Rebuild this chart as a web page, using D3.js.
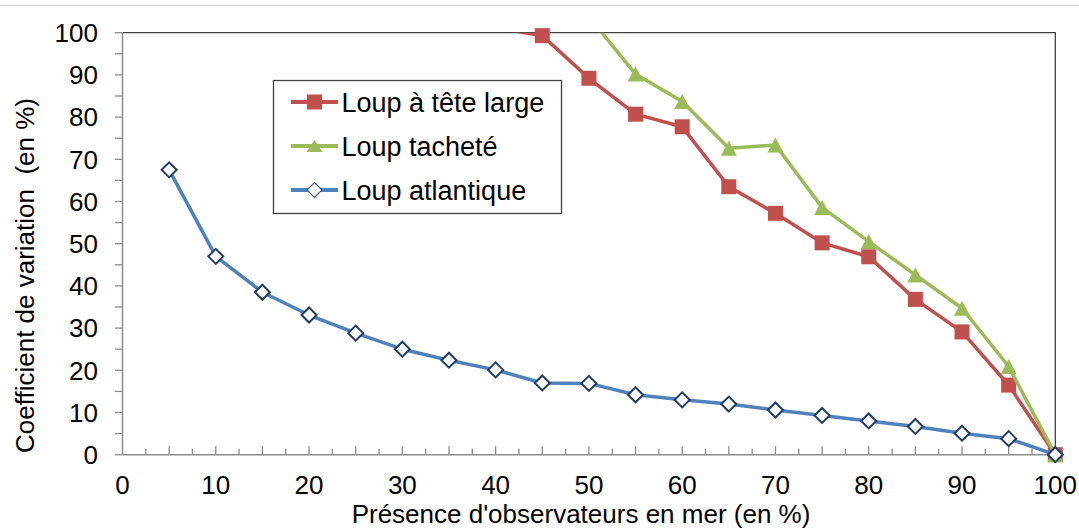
<!DOCTYPE html>
<html>
<head>
<meta charset="utf-8">
<script src="https://cdn.jsdelivr.net/npm/d3@7"></script>
<style>
  html, body { margin: 0; padding: 0; background: #fff; }
  svg { display: block; font-family: "Liberation Sans", Arial, sans-serif; }
</style>
</head>
<body>
<svg id="chart" width="1079" height="529"></svg>
<script>
// Presence of observers at sea (%), one point every 5 %
const presence = [5, 10, 15, 20, 25, 30, 35, 40, 45, 50, 55, 60, 65, 70, 75, 80, 85, 90, 95, 100];

// Coefficient of variation (%) per species; null = not plotted
const loupTeteLarge = [null, null, null, null, null, null, null, 101.2, 99.3, 89.2, 80.7, 77.7, 63.5, 57.2, 50.2, 46.9, 36.8, 29.1, 16.5, 0];
const loupTachete   = [null, null, null, null, null, null, null, null, null, 103.8, 90.2, 83.7, 72.6, 73.4, 58.6, 50.5, 42.6, 34.7, 20.9, 0];
const loupAtlantique = [67.5, 47.0, 38.5, 33.1, 28.8, 25.0, 22.4, 20.1, 17.0, 16.9, 14.2, 13.0, 12.0, 10.6, 9.3, 8.0, 6.7, 5.1, 3.8, 0];

const seriesNames = ["Loup à tête large", "Loup tacheté", "Loup atlantique"];

const xTickLabels = [0, 10, 20, 30, 40, 50, 60, 70, 80, 90, 100];
const yTickLabels = [0, 10, 20, 30, 40, 50, 60, 70, 80, 90, 100];
const xMinorTicks = [2.5, 5, 7.5, 10, 12.5, 15, 17.5, 20, 22.5, 25, 27.5, 30, 32.5, 35, 37.5, 40, 42.5, 45, 47.5, 50,
                     52.5, 55, 57.5, 60, 62.5, 65, 67.5, 70, 72.5, 75, 77.5, 80, 82.5, 85, 87.5, 90, 92.5, 95, 97.5];
const yMinorTicks = [0, 5, 10, 15, 20, 25, 30, 35, 40, 45, 50, 55, 60, 65, 70, 75, 80, 85, 90, 95, 100];

const plot = { left: 122.5, right: 1055.3, top: 32.7, bottom: 454.7 };

const svg = d3.select("#chart");
const x = d3.scaleLinear().domain([0, 100]).range([plot.left, plot.right]);
const y = d3.scaleLinear().domain([0, 100]).range([plot.bottom, plot.top]);

// outer frame line at the top of the chart area
svg.append("line").attr("x1", 0).attr("x2", 1079).attr("y1", 5.5).attr("y2", 5.5)
  .attr("stroke", "#d9d9d9").attr("stroke-width", 1.5);

// plot area border (top and right)
svg.append("path")
  .attr("d", `M${plot.left},${plot.top}H${plot.right}V${plot.bottom}`)
  .attr("fill", "none").attr("stroke", "#404040").attr("stroke-width", 1.3);

// axes
const axisColor = "#8c8c8c";
svg.append("line").attr("x1", plot.left).attr("x2", plot.left).attr("y1", plot.top).attr("y2", plot.bottom)
  .attr("stroke", axisColor).attr("stroke-width", 1.5);
svg.append("line").attr("x1", plot.left).attr("x2", plot.right).attr("y1", plot.bottom).attr("y2", plot.bottom)
  .attr("stroke", axisColor).attr("stroke-width", 1.5);

svg.append("g").selectAll("line").data(yMinorTicks).join("line")
  .attr("x1", plot.left - 7.5).attr("x2", plot.left)
  .attr("y1", d => y(d)).attr("y2", d => y(d))
  .attr("stroke", axisColor).attr("stroke-width", 1.3);

svg.append("g").selectAll("line").data(xMinorTicks).join("line")
  .attr("x1", d => x(d)).attr("x2", d => x(d))
  .attr("y1", plot.bottom).attr("y2", d => plot.bottom - (d % 5 === 0 ? 8.5 : 6))
  .attr("stroke", axisColor).attr("stroke-width", 1.3);

// tick labels
svg.append("g").selectAll("text").data(yTickLabels).join("text")
  .attr("x", 98).attr("y", d => y(d)).attr("dy", "0.36em")
  .attr("text-anchor", "end").attr("font-size", 26).attr("fill", "#000")
  .text(d => d);

svg.append("g").selectAll("text").data(xTickLabels).join("text")
  .attr("x", d => x(d)).attr("y", 493.5)
  .attr("text-anchor", "middle").attr("font-size", 26).attr("fill", "#000")
  .text(d => d);

// axis titles
svg.append("text")
  .attr("x", 581).attr("y", 523).attr("text-anchor", "middle")
  .attr("font-size", 26).attr("fill", "#000")
  .text("Présence d'observateurs en mer (en %)");

svg.append("text")
  .attr("transform", "translate(33.5,275.5) rotate(-90)")
  .attr("text-anchor", "middle").attr("font-size", 26).attr("fill", "#000")
  .style("white-space", "pre")
  .text("Coefficient de variation  (en %)");

// series
svg.append("defs").append("clipPath").attr("id", "plot-clip")
  .append("rect").attr("x", plot.left).attr("y", plot.top)
  .attr("width", plot.right - plot.left).attr("height", plot.bottom - plot.top);

const colors = { red: "#C0504D", green: "#9BBB59", blue: "#4F81BD", navy: "#1F3B63" };

const series = [
  { name: seriesNames[0], values: loupTeteLarge, color: colors.red, marker: "square" },
  { name: seriesNames[1], values: loupTachete, color: colors.green, marker: "triangle" },
  { name: seriesNames[2], values: loupAtlantique, color: colors.blue, marker: "diamond" }
];

const line = d3.line()
  .defined(d => d.v !== null)
  .x(d => x(d.p)).y(d => y(d.v));

function drawMarker(g, kind, cx, cy, legend) {
  if (kind === "square") {
    g.append("rect").attr("x", cx - 7.5).attr("y", cy - 7.5).attr("width", 15).attr("height", 15)
      .attr("fill", colors.red);
  } else if (kind === "triangle") {
    const w = 16, h = legend ? 12 : 15;
    g.append("path")
      .attr("d", `M${cx},${cy - h / 2}L${cx + w / 2},${cy + h / 2}L${cx - w / 2},${cy + h / 2}Z`)
      .attr("fill", colors.green);
  } else {
    const r = 7.5;
    g.append("path")
      .attr("d", `M${cx},${cy - r}L${cx + r},${cy}L${cx},${cy + r}L${cx - r},${cy}Z`)
      .attr("fill", "#fff")
      .attr("stroke", legend ? "#3a5a86" : colors.navy)
      .attr("stroke-width", legend ? 1.2 : 2);
  }
}

series.forEach(s => {
  const pts = presence.map((p, i) => ({ p, v: s.values[i] }));
  svg.append("path").datum(pts)
    .attr("clip-path", "url(#plot-clip)")
    .attr("fill", "none").attr("stroke", s.color).attr("stroke-width", 3.5)
    .attr("stroke-linejoin", "round")
    .attr("d", line);
  const g = svg.append("g");
  pts.filter(d => d.v !== null && d.v <= 100)
    .forEach(d => drawMarker(g, s.marker, x(d.p), y(d.v), false));
});

// legend
const legend = svg.append("g");
legend.append("rect").attr("x", 273.5).attr("y", 80.5).attr("width", 288).attr("height", 133)
  .attr("fill", "#fff").attr("stroke", "#404040").attr("stroke-width", 1.3);

const rowBaselines = [111.5, 155.5, 199.5];
series.forEach((s, i) => {
  const cy = rowBaselines[i] - 9.5;
  legend.append("line").attr("x1", 291).attr("x2", 338).attr("y1", cy).attr("y2", cy)
    .attr("stroke", s.color).attr("stroke-width", 4);
  drawMarker(legend, s.marker, 314.5, cy, true);
  legend.append("text").attr("x", 341.5).attr("y", rowBaselines[i])
    .attr("font-size", 27).attr("fill", "#000").text(s.name);
});
</script>
</body>
</html>
